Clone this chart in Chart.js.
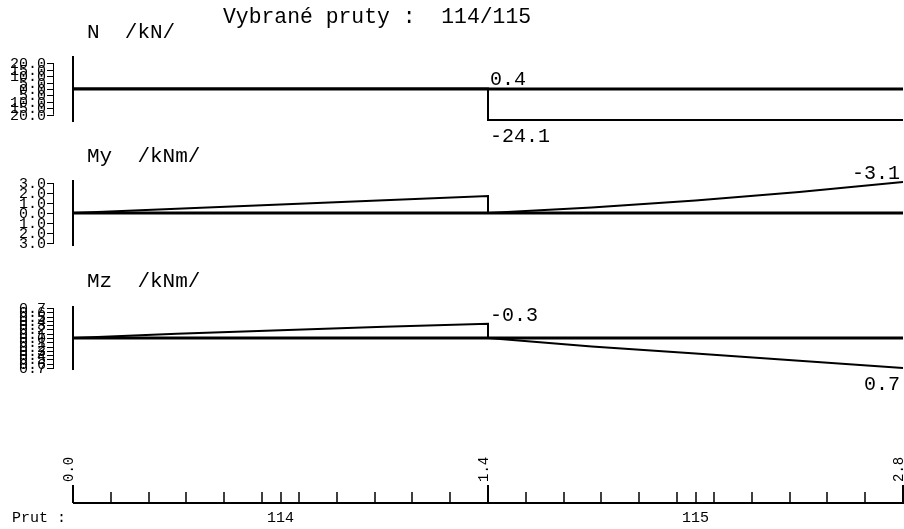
<!DOCTYPE html>
<html>
<head>
<meta charset="utf-8">
<script src="https://cdn.jsdelivr.net/npm/chart.js@4.4.1/dist/chart.umd.min.js"></script>
<style>
html, body { margin: 0; padding: 0; background: #fff; overflow: hidden; }
canvas { display: block; }
</style>
</head>
<body>
<canvas id="c" width="904" height="529"></canvas>
<script>
// data
var title = "Vybrané pruty :  114/115";
var members = ["114", "115"];
var stations114 = [0, 0.35, 0.7, 1.05, 1.4];
var stations115 = [1.4, 1.75, 2.1, 2.45, 2.8];
var N114 = [0.4, 0.4, 0.4, 0.4, 0.4];
var N115 = [-24.1, -24.1, -24.1, -24.1, -24.1];
var My114 = [0, -0.42, -0.85, -1.28, -1.7];
var My115 = [0, -0.55, -1.25, -2.1, -3.1];
var Mz114 = [0, -0.1, -0.18, -0.26, -0.33];
var Mz115 = [0, 0.2, 0.36, 0.53, 0.7];
var NTicks = [20, 15, 10, 5, 0, -5, -10, -15, -20];
var MyTicks = [3, 2, 1, 0, -1, -2, -3];
var MzTicks = [0.7, 0.6, 0.5, 0.4, 0.3, 0.2, 0.1, 0, -0.1, -0.2, -0.3, -0.4, -0.5, -0.6, -0.7];
var xMajor = [0, 1.4, 2.8];
var xMinor = [0.127, 0.255, 0.382, 0.509, 0.636, 0.7, 0.764, 0.891, 1.018, 1.145, 1.273,
              1.527, 1.655, 1.782, 1.909, 2.036, 2.1, 2.164, 2.291, 2.418, 2.545, 2.673];
var memberMid = [0.7, 2.1];

var H = 529;
var mono = '"Liberation Mono", "DejaVu Sans Mono", monospace';

var panels = [
  { id: "yN", name: "N  /kN/", ticks: NTicks, top: 58, bottom: 120, reverse: false, a: N114, b: N115,
    notes: [{ x: 1.4, v: N114[4], side: "above", align: "left" }, { x: 1.4, v: N115[0], side: "below", align: "left" }] },
  { id: "yMy", name: "My  /kNm/", ticks: MyTicks, top: 182, bottom: 244, reverse: true, a: My114, b: My115,
    notes: [{ x: 2.8, v: My115[4], side: "above", align: "right" }] },
  { id: "yMz", name: "Mz  /kNm/", ticks: MzTicks, top: 308, bottom: 368, reverse: true, a: Mz114, b: Mz115,
    notes: [{ x: 1.4, v: Mz114[4], side: "above", align: "left" }, { x: 2.8, v: Mz115[4], side: "below", align: "right" }] }
];

function maxAbs(arr) {
  var m = 0;
  arr.forEach(function(v) { m = Math.max(m, Math.abs(v)); });
  return m;
}

var scales = { x: { type: "linear", min: 0, max: 2.8, display: false } };
var datasets = [];
panels.forEach(function(p) {
  var M = maxAbs(p.a.concat(p.b));
  var upp = 2 * M / (p.bottom - p.top);
  var s = { type: "linear", display: false, reverse: p.reverse };
  if (p.reverse) { s.min = -M - p.top * upp; s.max = M + (H - p.bottom) * upp; }
  else { s.max = M + p.top * upp; s.min = -M - (H - p.bottom) * upp; }
  scales[p.id] = s;

  datasets.push({ data: [{ x: 0, y: 0 }, { x: 2.8, y: 0 }], yAxisID: p.id, borderWidth: 3 });
  var d1 = stations114.map(function(x, i) { return { x: x, y: p.a[i] }; });
  d1.push({ x: 1.4, y: 0 });
  var d2 = [{ x: 1.4, y: 0 }].concat(stations115.map(function(x, i) { return { x: x, y: p.b[i] }; }));
  datasets.push({ data: d1, yAxisID: p.id, borderWidth: 2 });
  datasets.push({ data: d2, yAxisID: p.id, borderWidth: 2 });
});
datasets.forEach(function(d) {
  d.borderColor = "#000";
  d.pointRadius = 0;
  d.fill = false;
  d.tension = 0;
});

var decor = {
  id: "decor",
  afterDatasetsDraw: function(chart) {
    var ctx = chart.ctx;
    var xs = chart.scales.x;
    ctx.save();
    ctx.fillStyle = "#000";
    ctx.strokeStyle = "#000";

    ctx.font = "21.4px " + mono;
    ctx.textBaseline = "alphabetic";
    ctx.textAlign = "left";
    ctx.fillText(title, 223, 23);

    panels.forEach(function(p) {
      var ys = chart.scales[p.id];
      var zero = ys.getPixelForValue(0);
      ctx.font = "21px " + mono;
      ctx.textAlign = "left";
      ctx.fillText(p.name, 87, zero - 51);

      // left axis
      ctx.lineWidth = 2;
      ctx.beginPath();
      ctx.moveTo(xs.left, p.top - 2);
      ctx.lineTo(xs.left, p.bottom + 2);
      ctx.stroke();

      // tick labels and small ruler
      ctx.font = "15px " + mono;
      ctx.textAlign = "right";
      ctx.textBaseline = "middle";
      ctx.lineWidth = 1;
      var y0 = ys.getPixelForValue(p.ticks[0]);
      var y1 = ys.getPixelForValue(p.ticks[p.ticks.length - 1]);
      ctx.beginPath();
      ctx.moveTo(53.5, y0);
      ctx.lineTo(53.5, y1);
      p.ticks.forEach(function(t) {
        var y = Math.round(ys.getPixelForValue(t)) + 0.5;
        ctx.moveTo(47, y);
        ctx.lineTo(54, y);
      });
      ctx.stroke();
      p.ticks.forEach(function(t) {
        ctx.fillText(Math.abs(t).toFixed(1), 46, ys.getPixelForValue(t) + 1);
      });

      // value notes
      ctx.font = "20px " + mono;
      ctx.textBaseline = "alphabetic";
      p.notes.forEach(function(n) {
        var px = xs.getPixelForValue(n.x);
        var py = ys.getPixelForValue(n.v);
        ctx.textAlign = n.align;
        var tx = n.align === "left" ? px + 2 : px - 3;
        var ty = n.side === "above" ? py - 3 : py + 22;
        ctx.fillText(n.v.toFixed(1), tx, ty);
      });
    });

    // bottom axis
    var axY = 503;
    ctx.lineWidth = 2;
    ctx.beginPath();
    ctx.moveTo(xs.left, axY);
    ctx.lineTo(xs.right + 1, axY);
    ctx.stroke();
    ctx.lineWidth = 1.5;
    ctx.beginPath();
    xMinor.forEach(function(v) {
      var x = Math.round(xs.getPixelForValue(v));
      ctx.moveTo(x, axY);
      ctx.lineTo(x, 492);
    });
    ctx.stroke();
    ctx.lineWidth = 2;
    ctx.beginPath();
    xMajor.forEach(function(v) {
      var x = Math.round(xs.getPixelForValue(v));
      ctx.moveTo(x, axY);
      ctx.lineTo(x, 485);
    });
    ctx.stroke();
    ctx.font = "14px " + mono;
    ctx.textAlign = "left";
    xMajor.forEach(function(v) {
      var x = Math.round(xs.getPixelForValue(v));
      ctx.save();
      ctx.translate(x, 482);
      ctx.rotate(-Math.PI / 2);
      ctx.fillText(v.toFixed(1), 0, 0);
      ctx.restore();
    });
    ctx.font = "15px " + mono;
    ctx.fillText("Prut :", 12, 522);
    ctx.textAlign = "center";
    members.forEach(function(m, i) {
      ctx.fillText(m, xs.getPixelForValue(memberMid[i]), 522);
    });
    ctx.restore();
  }
};

new Chart(document.getElementById("c"), {
  type: "line",
  data: { datasets: datasets },
  options: {
    responsive: false,
    animation: false,
    layout: { padding: { left: 73, right: 1, top: 0, bottom: 0 } },
    scales: scales,
    plugins: { legend: { display: false }, tooltip: { enabled: false } }
  },
  plugins: [decor]
});
</script>
</body>
</html>
